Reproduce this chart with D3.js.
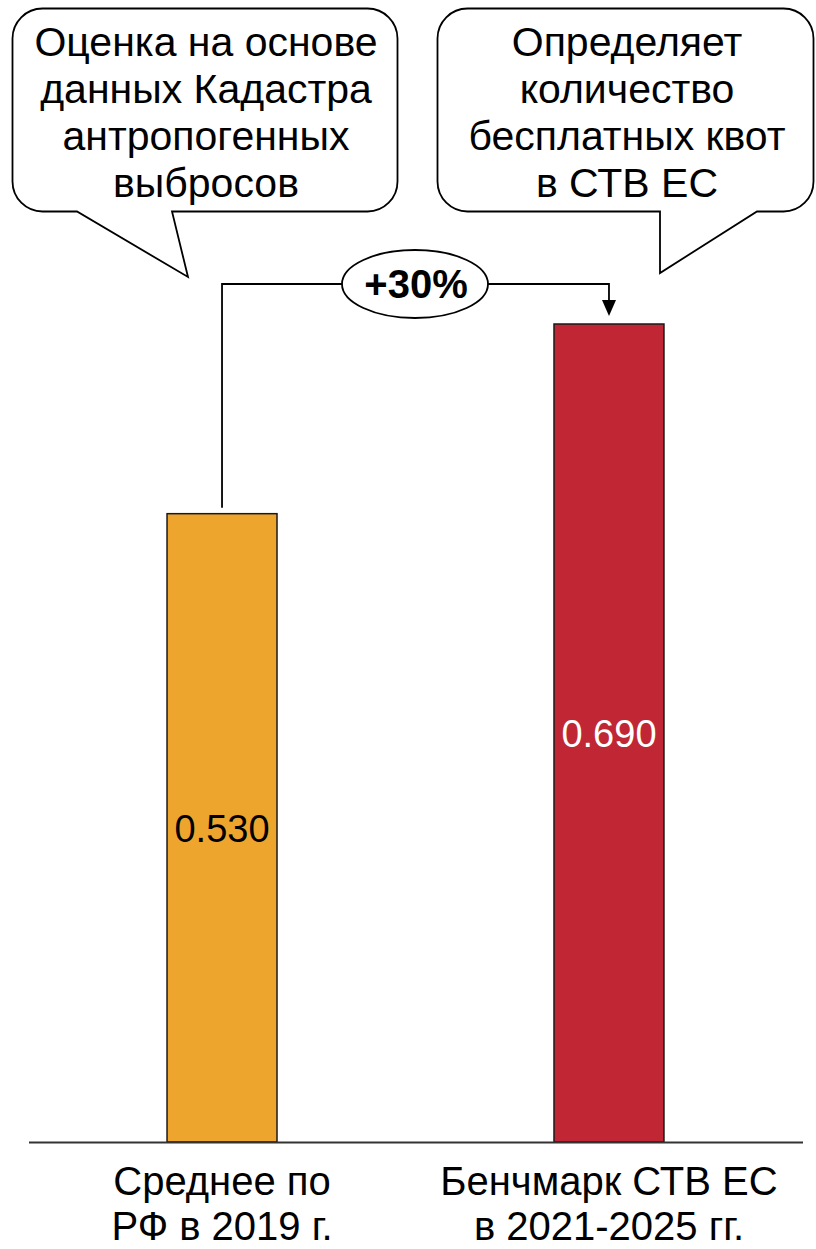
<!DOCTYPE html>
<html><head><meta charset="utf-8">
<script src="https://cdn.jsdelivr.net/npm/d3@7"></script>
<style>
html,body{margin:0;padding:0;background:#fff;}
svg{display:block;font-family:"Liberation Sans",Arial,sans-serif;}
</style></head>
<body>
<svg id="c" width="816" height="1249"></svg>
<script>
const categories = ["Среднее по РФ в 2019 г.", "Бенчмарк СТВ ЕС в 2021-2025 гг."];
const categoryLines = [["Среднее по", "РФ в 2019 г."], ["Бенчмарк СТВ ЕС", "в 2021-2025 гг."]];
const values = [0.530, 0.690];
const valueLabels = ["0.530", "0.690"];
const barColors = ["#EEA52D", "#C02634"];
const labelColors = ["#000000", "#ffffff"];
const calloutLeft = ["Оценка на основе", "данных Кадастра", "антропогенных", "выбросов"];
const calloutRight = ["Определяет", "количество", "бесплатных квот", "в СТВ ЕС"];
const changeLabel = "+30%";

const svg = d3.select("#c");
const x = d3.scaleBand().domain(categories).range([28.5, 802.5]).paddingInner(0.7158).paddingOuter(0.358);
const y = d3.scaleLinear().domain([0, 0.69]).range([1142, 324]);

// bars
svg.selectAll("rect.bar").data(values).join("rect")
  .attr("class","bar")
  .attr("x",(d,i)=>x(categories[i]))
  .attr("y",d=>y(d))
  .attr("width",x.bandwidth())
  .attr("height",d=>y(0)-y(d))
  .attr("fill",(d,i)=>barColors[i])
  .attr("stroke","#1a1a1a").attr("stroke-width",1.5);

// value labels
svg.selectAll("text.val").data(values).join("text")
  .attr("class","val")
  .attr("x",(d,i)=>x(categories[i])+x.bandwidth()/2)
  .attr("y",d=>(y(d)+y(0))/2+14)
  .attr("text-anchor","middle")
  .attr("font-size",38)
  .attr("fill",(d,i)=>labelColors[i])
  .text((d,i)=>valueLabels[i]);

// axis baseline via d3 axis
const ax = svg.append("g").attr("transform",`translate(0,${y(0)})`)
  .call(d3.axisBottom(x).tickSize(0).tickFormat(""));
ax.select(".domain").attr("stroke","#333").attr("stroke-width",2);

// category labels
categories.forEach((c,i)=>{
  const t = svg.append("text")
    .attr("x",x(c)+x.bandwidth()/2)
    .attr("text-anchor","middle")
    .attr("font-size",40).attr("fill","#000");
  categoryLines[i].forEach((ln,j)=>{
    t.append("tspan").attr("x",x(c)+x.bandwidth()/2).attr("y",1195+j*45).text(ln);
  });
});

// callouts
function callout(x0,y0,x1,y1,r,tail){
  const [xa,tx,ty,xb]=tail;
  const p=d3.path();
  p.moveTo(x0+r,y0);
  p.lineTo(x1-r,y0);
  p.arcTo(x1,y0,x1,y0+r,r);
  p.lineTo(x1,y1-r);
  p.arcTo(x1,y1,x1-r,y1,r);
  p.lineTo(xb,y1);
  p.lineTo(tx,ty);
  p.lineTo(xa,y1);
  p.lineTo(x0+r,y1);
  p.arcTo(x0,y1,x0,y1-r,r);
  p.lineTo(x0,y0+r);
  p.arcTo(x0,y0,x0+r,y0,r);
  p.closePath();
  svg.append("path").attr("d",p.toString()).attr("fill","#fff").attr("stroke","#000").attr("stroke-width",1.8);
}
callout(12.5,8.5,397.5,211.5,30,[77,188,277,172]);
callout(437.5,8.5,813.5,211.5,30,[660,660,273,757]);

function lines(arr,cx,y0){
  const t=svg.append("text").attr("text-anchor","middle").attr("font-size",41).attr("fill","#000");
  arr.forEach((ln,j)=>t.append("tspan").attr("x",cx).attr("y",y0+j*47).text(ln));
}
lines(calloutLeft,206,56);
lines(calloutRight,627,56);

// bracket
const bx0 = x(categories[0])+x.bandwidth()/2;
const bx1 = x(categories[1])+x.bandwidth()/2;
const by = 284;
svg.append("path").attr("d",`M${bx0},${y(values[0])-6}V${by}H${bx1}V${y(values[1])-22}`)
  .attr("fill","none").attr("stroke","#000").attr("stroke-width",1.8);
svg.append("path").attr("d",`M${bx1-7},${y(values[1])-24}L${bx1+7},${y(values[1])-24}L${bx1},${y(values[1])-8}Z`).attr("fill","#000");
svg.append("ellipse").attr("cx",415).attr("cy",by).attr("rx",73).attr("ry",34)
  .attr("fill","#fff").attr("stroke","#000").attr("stroke-width",1.8);
svg.append("text").attr("x",416).attr("y",by+14).attr("text-anchor","middle")
  .attr("font-size",40).attr("font-weight","bold").text(changeLabel);
</script>
</body></html>
